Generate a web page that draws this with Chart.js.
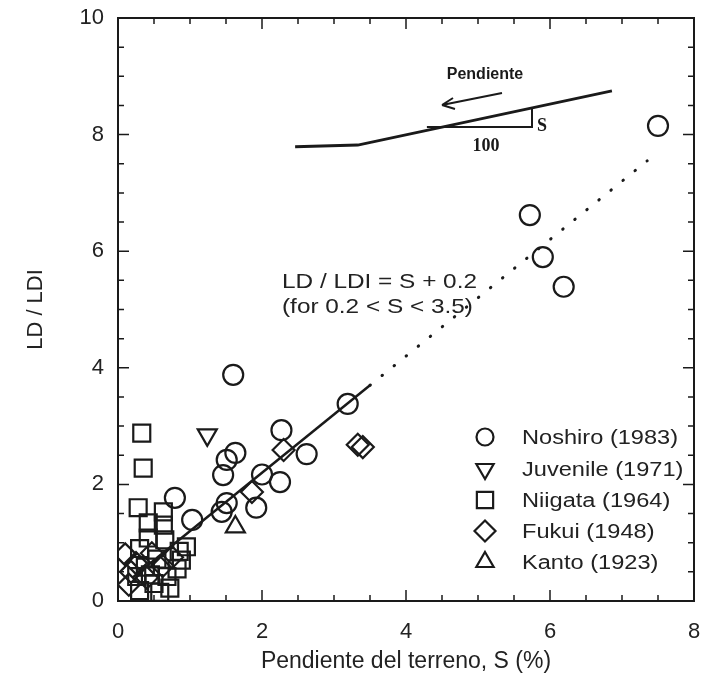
<!DOCTYPE html>
<html>
<head>
<meta charset="utf-8">
<script src="https://cdn.jsdelivr.net/npm/chart.js@4/dist/chart.umd.min.js"></script>
<style>
  html, body { margin: 0; padding: 0; background: #fff; }
</style>
</head>
<body>
<canvas id="c" width="709" height="682"></canvas>
<script>
// values
const noshiroX = [7.5, 5.72, 5.9, 6.19, 3.19, 1.6, 2.27, 2.62, 2.25, 2.0, 1.92, 1.63, 1.51, 1.46, 1.51, 1.44, 0.79, 1.03];
const noshiroY = [8.15, 6.62, 5.9, 5.39, 3.38, 3.88, 2.93, 2.52, 2.04, 2.17, 1.6, 2.54, 2.42, 2.16, 1.68, 1.53, 1.77, 1.39];

const juvenileX = [1.24];
const juvenileY = [2.85];

const niigataX = [0.33, 0.35, 0.28, 0.63, 0.42, 0.63, 0.42, 0.65, 0.95, 0.88, 0.54, 0.3, 0.26, 0.68, 0.72, 0.38, 0.5, 0.82, 0.58, 0.3, 0.85, 0.45];
const niigataY = [2.88, 2.28, 1.6, 1.53, 1.34, 1.3, 1.08, 1.05, 0.93, 0.7, 0.72, 0.9, 0.42, 0.42, 0.22, 0.58, 0.3, 0.55, 0.15, 0.18, 0.85, 0.45];

const fukuiX = [1.86, 2.3, 3.33, 3.4, 0.47, 0.1, 0.18, 0.62, 0.15, 0.4, 0.75, 0.25];
const fukuiY = [1.87, 2.59, 2.68, 2.64, 0.82, 0.8, 0.5, 0.6, 0.28, 0.4, 0.75, 0.65];

const kantoX = [1.63];
const kantoY = [1.27];

// LD / LDI = S + 0.2
const fitSolidX = [0.2, 3.5];
const fitSolidY = [0.4, 3.7];
const fitDotX = [3.5, 7.35];
const fitDotY = [3.7, 7.55];

const seriesNames = ["Noshiro (1983)", "Juvenile (1971)", "Niigata (1964)", "Fukui (1948)", "Kanto (1923)"];
const xTicks = [0, 2, 4, 6, 8];
const yTicks = [0, 2, 4, 6, 8, 10];

// slope sketch in the upper right (data units)
const groundX = [2.46, 3.33, 6.86];
const groundY = [7.79, 7.82, 8.75];
const triX = [4.29, 5.75, 5.75];
const triY = [8.13, 8.13, 8.47];

const pts = (xs, ys) => xs.map((x, i) => ({ x: x, y: ys[i] }));
const INK = "#1a1a1a";
const FONT = "'Liberation Sans', Arial, Helvetica, sans-serif";

const marker = (label, xs, ys, style, radius, rotation) => ({
  label: label,
  data: pts(xs, ys),
  pointStyle: style,
  pointRadius: radius,
  rotation: rotation || 0,
  borderColor: INK,
  backgroundColor: "rgba(0,0,0,0)",
  pointBorderWidth: 2.2,
  showLine: false
});

function drawSymbol(ctx, style, x, y, r, rot) {
  if (Chart.helpers && Chart.helpers.drawPoint) {
    Chart.helpers.drawPoint(ctx, { pointStyle: style, radius: r, rotation: rot || 0, borderWidth: 2.2 }, x, y);
  }
}

// text a bit wider than it is tall, like the scanned figure
function wideText(ctx, txt, x, y, sx) {
  ctx.save();
  ctx.translate(x, y);
  ctx.scale(sx, 1);
  ctx.fillText(txt, 0, 0);
  ctx.restore();
}

const framePlugin = {
  id: "frame",
  afterDatasetsDraw(chart) {
    const { ctx, chartArea: a, scales } = chart;
    const xs = scales.x, ys = scales.y;
    ctx.save();
    ctx.strokeStyle = INK;
    ctx.lineWidth = 2;
    ctx.strokeRect(a.left, a.top, a.right - a.left, a.bottom - a.top);
    ctx.lineWidth = 1.5;
    ctx.beginPath();
    for (let v = 0.5; v < 8; v += 0.5) {
      const px = xs.getPixelForValue(v);
      const len = v % 2 === 0 ? 11 : 6;
      ctx.moveTo(px, a.bottom); ctx.lineTo(px, a.bottom - len);
      ctx.moveTo(px, a.top); ctx.lineTo(px, a.top + len);
    }
    for (let v = 0.5; v < 10; v += 0.5) {
      const py = ys.getPixelForValue(v);
      const len = v % 2 === 0 ? 11 : 6;
      ctx.moveTo(a.left, py); ctx.lineTo(a.left + len, py);
      ctx.moveTo(a.right, py); ctx.lineTo(a.right - len, py);
    }
    ctx.stroke();

    // slope sketch
    const P = (x, y) => [xs.getPixelForValue(x), ys.getPixelForValue(y)];
    ctx.lineWidth = 3;
    ctx.beginPath();
    groundX.forEach((gx, i) => {
      const [px, py] = P(gx, groundY[i]);
      i ? ctx.lineTo(px, py) : ctx.moveTo(px, py);
    });
    ctx.stroke();
    ctx.lineWidth = 2;
    ctx.beginPath();
    triX.forEach((tx, i) => {
      const [px, py] = P(tx, triY[i]);
      i ? ctx.lineTo(px, py) : ctx.moveTo(px, py);
    });
    ctx.stroke();
    // arrow
    ctx.lineWidth = 2;
    ctx.beginPath();
    ctx.moveTo(502, 93); ctx.lineTo(442, 105);
    ctx.moveTo(442, 105); ctx.lineTo(453, 98);
    ctx.moveTo(442, 105); ctx.lineTo(455, 109);
    ctx.stroke();

    ctx.fillStyle = INK;
    ctx.textBaseline = "middle";
    ctx.textAlign = "center";
    ctx.font = "bold 16px " + FONT;
    ctx.fillText("Pendiente", 485, 75);
    ctx.font = "bold 18px 'Liberation Serif', 'Times New Roman', serif";
    ctx.textAlign = "left";
    ctx.fillText("S", 537, 126);
    ctx.textAlign = "center";
    ctx.fillText("100", 486, 146);

    // equation
    ctx.fillStyle = "#222";
    ctx.textAlign = "left";
    ctx.font = "21px " + FONT;
    wideText(ctx, "LD / LDI = S + 0.2", 282, 282, 1.16);
    wideText(ctx, "(for 0.2 < S < 3.5)", 282, 307, 1.16);

    // legend
    const styles = [["circle", 8.5, 0], ["triangle", 10, 180], ["rect", 11.5, 0], ["rectRot", 10.5, 0], ["triangle", 10, 0]];
    const rowY = [437, 469, 500, 531, 562];
    ctx.font = "20px " + FONT;
    seriesNames.forEach((name, i) => {
      ctx.strokeStyle = INK;
      ctx.fillStyle = "rgba(0,0,0,0)";
      ctx.lineWidth = 2.2;
      drawSymbol(ctx, styles[i][0], 485, rowY[i], styles[i][1], styles[i][2]);
      ctx.fillStyle = "#222";
      wideText(ctx, name, 522, rowY[i] + 1, 1.18);
    });
    ctx.restore();
  }
};

new Chart(document.getElementById("c"), {
  type: "scatter",
  data: {
    datasets: [
      {
        label: "fit",
        data: pts(fitSolidX, fitSolidY),
        showLine: true,
        borderColor: INK,
        borderWidth: 2.5,
        pointRadius: 0
      },
      {
        label: "fit dotted",
        data: pts(fitDotX, fitDotY),
        showLine: true,
        borderColor: INK,
        borderWidth: 3,
        borderDash: [0.5, 15],
        borderCapStyle: "round",
        pointRadius: 0
      },
      marker(seriesNames[0], noshiroX, noshiroY, "circle", 10),
      marker(seriesNames[1], juvenileX, juvenileY, "triangle", 11, 180),
      marker(seriesNames[2], niigataX, niigataY, "rect", 12),
      marker(seriesNames[3], fukuiX, fukuiY, "rectRot", 11),
      marker(seriesNames[4], kantoX, kantoY, "triangle", 11)
    ]
  },
  options: {
    responsive: false,
    animation: false,
    events: [],
    layout: { padding: { left: 0, top: 18, right: 15, bottom: 0 } },
    plugins: { legend: { display: false }, tooltip: { enabled: false } },
    scales: {
      x: {
        type: "linear",
        min: 0, max: 8,
        afterBuildTicks: s => { s.ticks = xTicks.map(v => ({ value: v })); },
        afterFit: s => { s.height = 81; s.paddingLeft = 4; s.paddingRight = 4; },
        grid: { display: false, drawTicks: false },
        border: { display: false },
        ticks: { color: "#222", font: { family: FONT, size: 22 }, padding: 18 },
        title: {
          display: true,
          text: "Pendiente del terreno, S (%)",
          color: "#222",
          font: { family: FONT, size: 23 },
          padding: { top: 0, bottom: 7 }
        }
      },
      y: {
        type: "linear",
        min: 0, max: 10,
        afterBuildTicks: s => { s.ticks = yTicks.map(v => ({ value: v })); },
        afterFit: s => { s.width = 118; s.paddingTop = 4; s.paddingBottom = 4; },
        grid: { display: false, drawTicks: false },
        border: { display: false },
        ticks: { color: "#222", font: { family: FONT, size: 22 }, padding: 14 },
        title: {
          display: true,
          text: "LD / LDI",
          color: "#222",
          font: { family: FONT, size: 22 },
          padding: { top: 23, bottom: 0 }
        }
      }
    }
  },
  plugins: [framePlugin]
});
</script>
</body>
</html>
